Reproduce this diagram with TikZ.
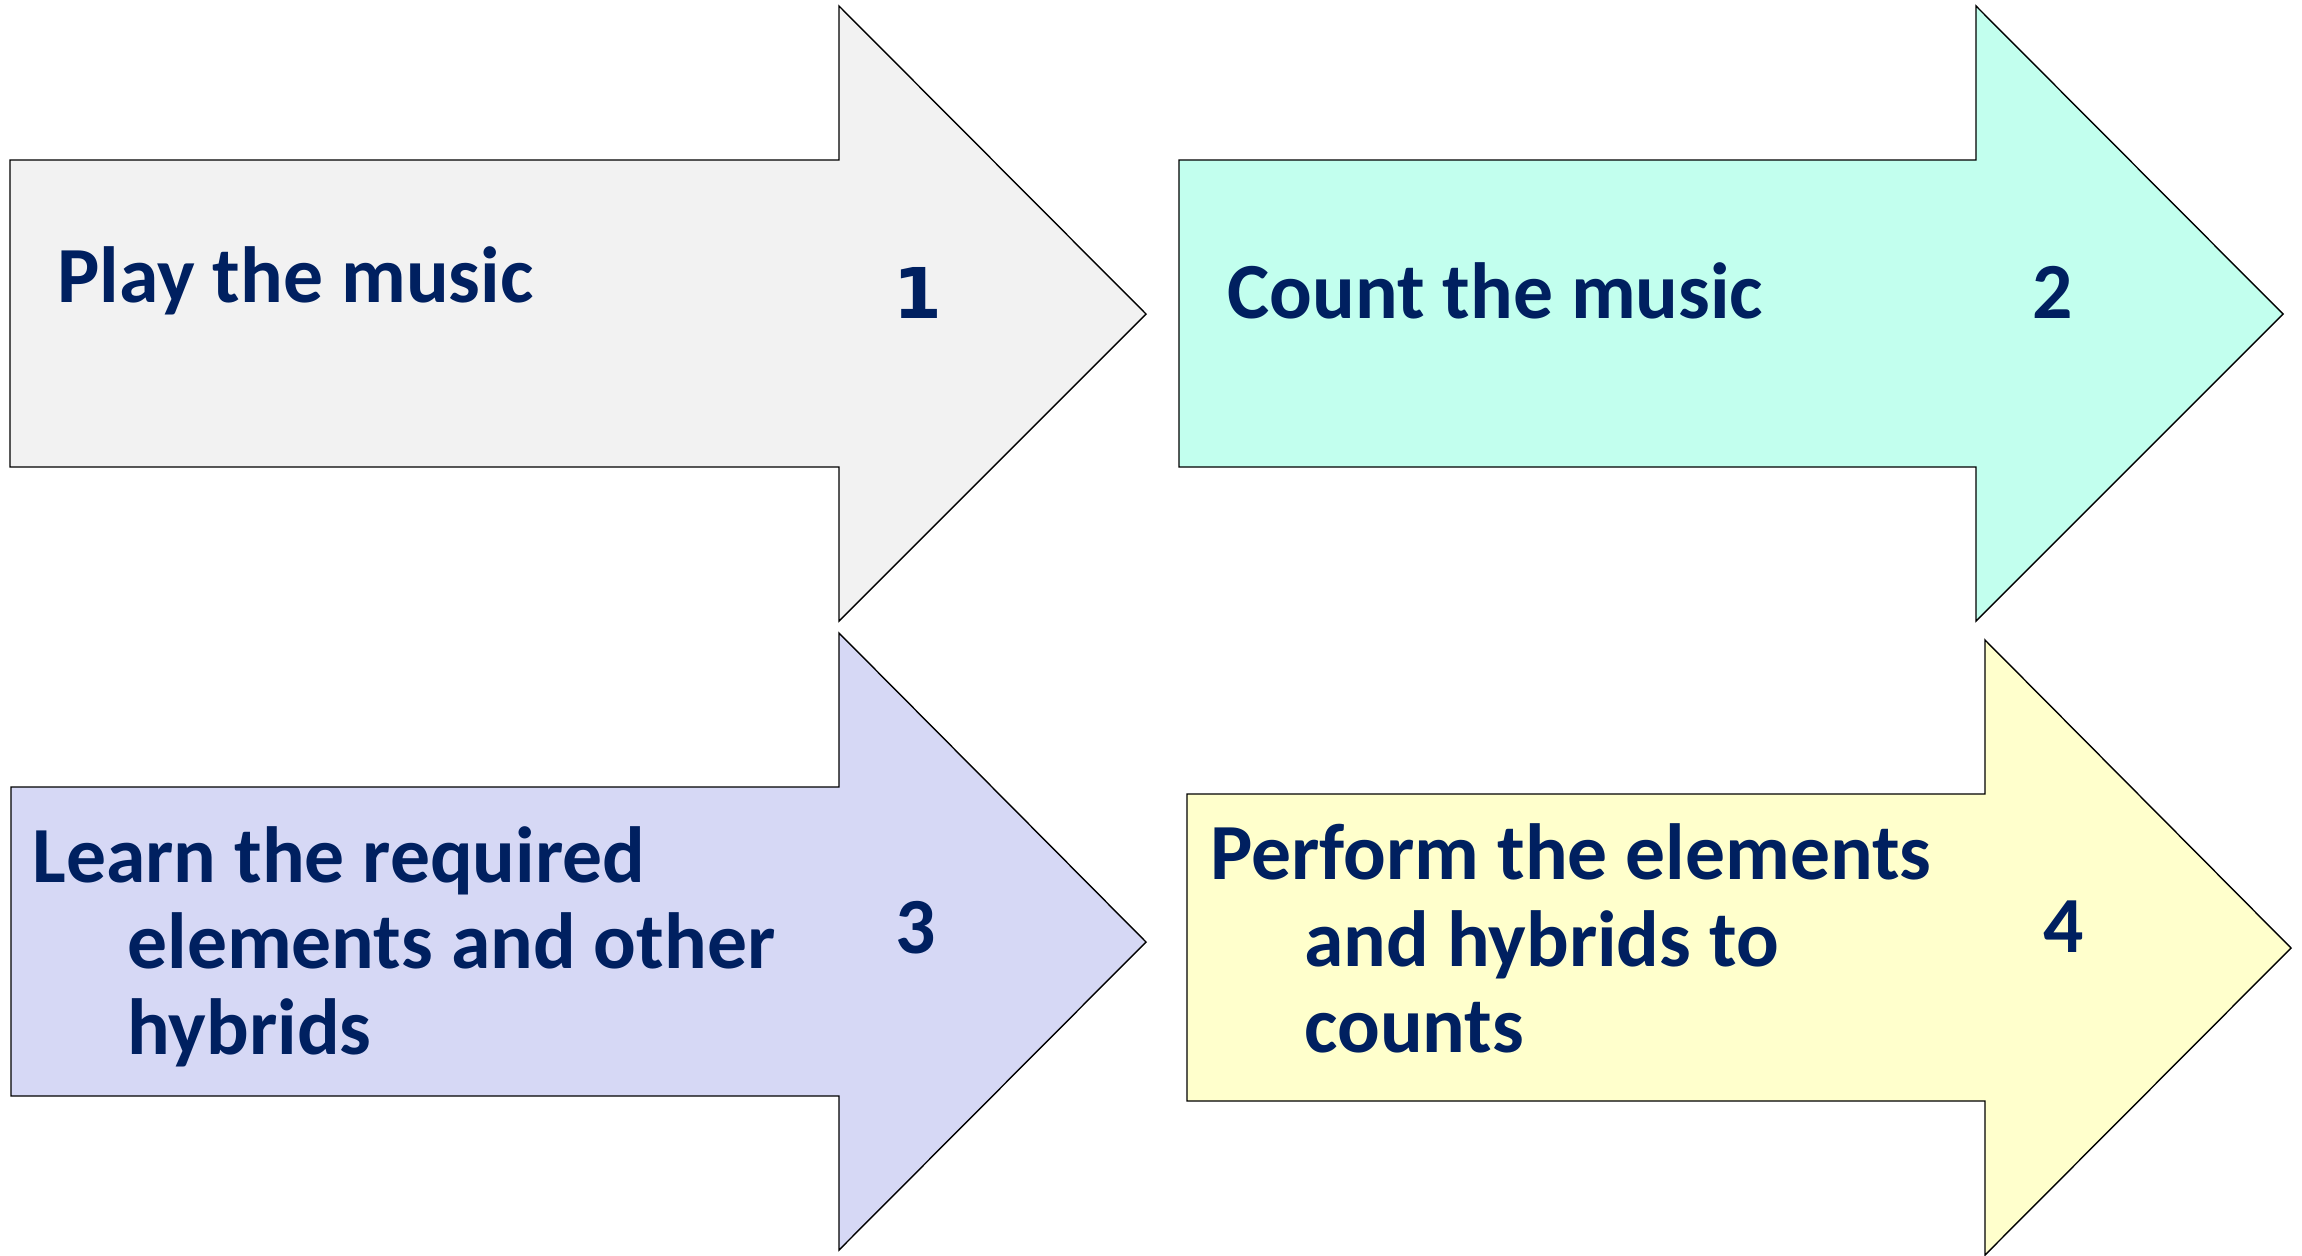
\documentclass[tikz,border=0pt]{standalone}
\usepackage{fontspec}
\setmainfont{Carlito}
\newfontfamily\numfont{DejaVu Sans}
\usepackage{tikz}
\definecolor{textnavy}{HTML}{002060}
\definecolor{stepgrey}{HTML}{F2F2F2}
\definecolor{stepmint}{HTML}{C2FFEE}
\definecolor{steplilac}{HTML}{D6D8F5}
\definecolor{stepcream}{HTML}{FFFFCC}
\tikzset{
  steparrow/.style={draw=black, line width=0.7pt, line join=miter},
  steptext/.style={anchor=base west, inner sep=0pt, text=textnavy,
    font=\fontsize{39.8}{43}\selectfont\bfseries},
}

\begin{document}
\begin{tikzpicture}[x=0.5pt, y=-0.5pt]
    \useasboundingbox (0,0) rectangle (2302,1255);
    % the four arrows
    \draw[steparrow, fill=stepgrey]  (10,160)--(839,160)--(839,6)--(1146,314)--(839,621)--(839,467)--(10,467)--cycle;
    \draw[steparrow, fill=stepmint]  (1179,160)--(1976,160)--(1976,6)--(2283,314)--(1976,621)--(1976,467)--(1179,467)--cycle;
    \draw[steparrow, fill=steplilac] (11,787)--(839,787)--(839,633)--(1146,942)--(839,1250)--(839,1096)--(11,1096)--cycle;
    \draw[steparrow, fill=stepcream] (1187,794)--(1985,794)--(1985,640)--(2291,948)--(1985,1255)--(1985,1101)--(1187,1101)--cycle;
    % texts
    \node[steptext] (play) at (57,302) {Play the music};
    \node[steptext, font=\fontsize{35}{40}\numfont\bfseries] (one) at (893,318) {1};
    \node[steptext] (count) at (1227,318) {Count the music};
    \node[steptext] (two) at (2032,318) {2};
    \node[steptext] (learna) at (32,882) {Learn the required};
    \node[steptext] (learnb) at (127,968) {elements and other};
    \node[steptext] (learnc) at (127,1054) {hybrids};
    \node[steptext] (three) at (895,953) {3};
    \node[steptext] (perfa) at (1210,879) {Perform the elements};
    \node[steptext] (perfb) at (1304,966) {and hybrids to};
    \node[steptext] (perfc) at (1304,1052) {counts};
    \node[steptext] (four) at (2043,952) {4};
\end{tikzpicture}
\end{document}
